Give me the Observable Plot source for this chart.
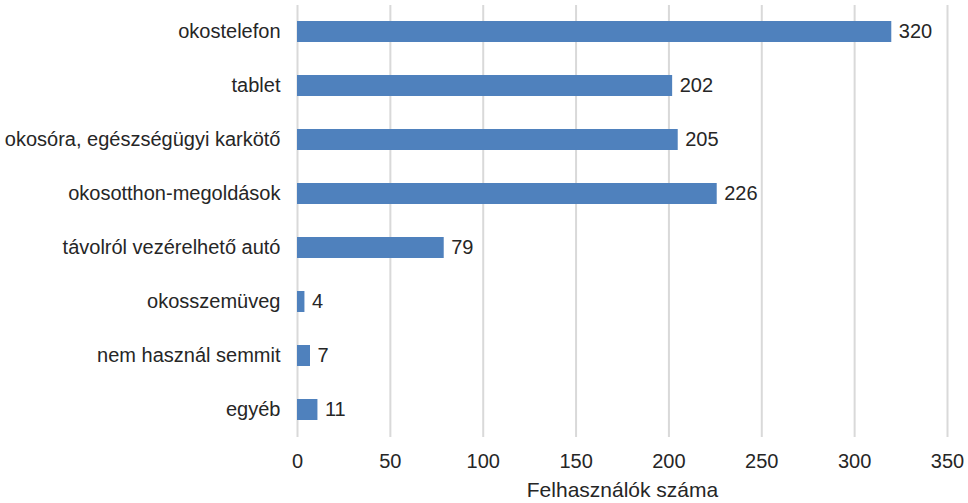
<!DOCTYPE html>
<html>
<head>
<meta charset="utf-8">
<script src="https://cdn.jsdelivr.net/npm/d3@7"></script>
<script src="https://cdn.jsdelivr.net/npm/@observablehq/plot@0.6"></script>
<style>
  html, body { margin: 0; padding: 0; background: #fff; }
  #chart svg { display: block; }
</style>
</head>
<body>
<div id="chart"></div>
<script>
const categories = [
  "okostelefon",
  "tablet",
  "okosóra, egészségügyi karkötő",
  "okosotthon-megoldások",
  "távolról vezérelhető autó",
  "okosszemüveg",
  "nem használ semmit",
  "egyéb"
];
const values = [320, 202, 205, 226, 79, 4, 7, 11];
const xTicks = [0, 50, 100, 150, 200, 250, 300, 350];
const xLabel = "Felhasználók száma";

const data = categories.map((c, i) => ({ category: c, value: values[i] }));

const font = "'Liberation Sans', Arial, sans-serif";

const chart = Plot.plot({
  width: 968,
  height: 503,
  marginTop: 5,
  marginBottom: 66,
  marginLeft: 297,
  marginRight: 21,
  style: { fontFamily: font, fontSize: "20px", color: "#262626", background: "#fff" },
  x: { domain: [0, 350], ticks: xTicks },
  y: { domain: categories, paddingInner: 0.61, paddingOuter: 0.305 },
  marks: [
    Plot.gridX(xTicks, { stroke: "#d9d9d9", strokeOpacity: 1, strokeWidth: 2 }),
    Plot.barX(data, { x: "value", y: "category", fill: "#4f81bd" }),
    Plot.text(data, { x: "value", y: "category", text: d => String(d.value), textAnchor: "start", dx: 7, fill: "#262626", fontSize: 20 }),
    Plot.axisX(xTicks, { tickSize: 0, tickPadding: 16, label: null, fontSize: 20 }),
    Plot.text([xLabel], { text: d => d, frameAnchor: "bottom", lineAnchor: "bottom", dy: 59, fontSize: 21, fill: "#262626" }),
    Plot.axisY({ tickSize: 0, tickPadding: 17, label: null, fontSize: 20 })
  ]
});
document.getElementById("chart").appendChild(chart);
</script>
</body>
</html>
